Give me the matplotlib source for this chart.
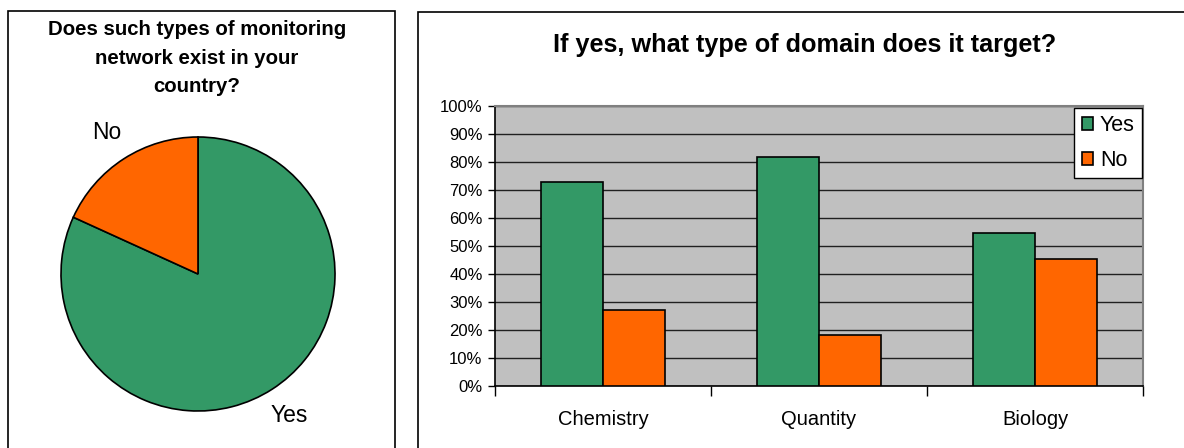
import matplotlib
matplotlib.use("Agg")
import matplotlib.pyplot as plt
import numpy as np
from matplotlib.patches import Rectangle, Patch

plt.rcParams["font.family"] = ["Liberation Sans", "DejaVu Sans"]

# data
pie_labels = ["Yes", "No"]
pie_values = [81.8, 18.2]

domains = ["Chemistry", "Quantity", "Biology"]
yes_pct = [72.7, 81.8, 54.5]
no_pct = [27.3, 18.2, 45.5]

GREEN = "#339966"
ORANGE = "#FF6600"

W, H = 1184, 448
fig = plt.figure(figsize=(W / 100, H / 100), dpi=100)


def fx(px):
    return px / W


def fy(py):
    return 1 - py / H


# panel frames (they run off the bottom / right edge in the reference)
for x0, y0, x1 in [(8, 11, 395), (418, 12, 1190)]:
    fig.add_artist(Rectangle((fx(x0), fy(460)), fx(x1 - x0), (460 - y0) / H,
                             transform=fig.transFigure, fill=False,
                             edgecolor="black", lw=1.2, clip_on=False))

# ---- pie panel ----
cx, cy, r = 198, 274, 137
pax = fig.add_axes([fx(cx - r), fy(cy + r), fx(2 * r), 2 * r / H])
wedges, texts = pax.pie(pie_values, labels=pie_labels, colors=[GREEN, ORANGE],
                        startangle=90, counterclock=False, labeldistance=1.23,
                        wedgeprops=dict(edgecolor="black", linewidth=1.2),
                        textprops=dict(fontsize=16.5))
for t in texts:
    t.set_ha("center")
pax.set_xlim(-1, 1)
pax.set_ylim(-1, 1)

fig.text(fx(197), fy(58), "Does such types of monitoring\nnetwork exist in your\ncountry?",
         ha="center", va="center", fontsize=14.7, fontweight="bold", linespacing=1.65)

# ---- bar panel ----
ax = fig.add_axes([fx(495), fy(386), fx(1143 - 495), 280 / H])
ax.set_facecolor("#C0C0C0")
x = np.arange(len(domains))
bw = 1 / 3.5
ax.bar(x - bw / 2, yes_pct, bw, color=GREEN, edgecolor="black", lw=1.2, label="Yes", zorder=3)
ax.bar(x + bw / 2, no_pct, bw, color=ORANGE, edgecolor="black", lw=1.2, label="No", zorder=3)

ax.set_ylim(0, 100)
ax.set_xlim(-0.5, len(domains) - 0.5)
ax.set_yticks(np.arange(0, 101, 10))
ax.set_yticklabels([f"{v}%" for v in range(0, 101, 10)], fontsize=12)
ax.yaxis.grid(True, color="#202020", lw=1)
ax.set_axisbelow(True)
ax.tick_params(axis="y", direction="out", length=5, width=1, pad=4)

ax.set_xticks(np.arange(-0.5, len(domains)))
ax.set_xticklabels([])
ax.tick_params(axis="x", which="major", direction="out", length=7, width=1)
ax.set_xticks(x, minor=True)
ax.set_xticklabels(domains, minor=True, fontsize=14.5)
ax.tick_params(axis="x", which="minor", length=0, pad=17)

for side in ["top", "right"]:
    ax.spines[side].set_color("#808080")
    ax.spines[side].set_linewidth(1.5)
for side in ["left", "bottom"]:
    ax.spines[side].set_color("black")
    ax.spines[side].set_linewidth(1.2)

handles = [Patch(facecolor=GREEN, edgecolor="black", lw=1.2),
           Patch(facecolor=ORANGE, edgecolor="black", lw=1.2)]
leg = ax.legend(handles, ["Yes", "No"], loc="upper right",
                bbox_to_anchor=(0.999, 0.993), borderaxespad=0, fontsize=15.5,
                frameon=True, fancybox=False, framealpha=1, edgecolor="black",
                handlelength=0.55, handleheight=0.55, handletextpad=0.3,
                labelspacing=0.62, borderpad=0.35)
leg.get_frame().set_linewidth(1)

fig.text(fx(805), fy(45), "If yes, what type of domain does it target?",
         ha="center", va="center", fontsize=18.2, fontweight="bold")

fig.savefig("out.png", dpi=100)
